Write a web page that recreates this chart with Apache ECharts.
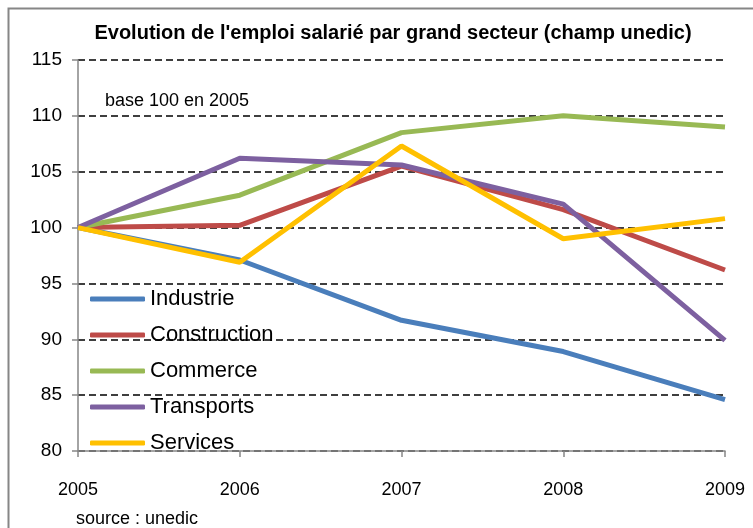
<!DOCTYPE html>
<html>
<head>
<meta charset="utf-8">
<script src="https://cdn.jsdelivr.net/npm/echarts@6/dist/echarts.min.js"></script>
<style>
  html, body { margin: 0; padding: 0; background: #fff; }
  #chart { width: 753px; height: 528px; }
</style>
</head>
<body>
<div id="chart"></div>
<script>
// années (axe x)
const years = ['2005', '2006', '2007', '2008', '2009'];

// indices base 100 en 2005
const industrie = [100, 97.1, 91.7, 88.9, 84.6];
const construction = [100, 100.2, 105.5, 101.6, 96.2];
const commerce = [100, 102.9, 108.5, 110.0, 109.0];
const transports = [100, 106.2, 105.6, 102.1, 89.9];
const services = [100, 96.9, 107.3, 99.0, 100.8];

const seriesNames = ['Industrie', 'Construction', 'Commerce', 'Transports', 'Services'];
const seriesData = [industrie, construction, commerce, transports, services];
const colors = ['#4a7ebb', '#be4b48', '#98b954', '#7d60a0', '#ffc000'];

const font = '"Liberation Sans", Arial, sans-serif';

const chart = echarts.init(document.getElementById('chart'));

const options = {
    animation: false,
    color: colors,
    textStyle: { fontFamily: font },
    title: {
        text: "Evolution de l'emploi salarié par grand secteur (champ unedic)",
        left: 388,
        top: 18,
        textAlign: 'center',
        textStyle: { fontFamily: font, fontSize: 20, fontWeight: 'bold', color: '#000' }
    },
    grid: {
        left: 78,
        right: 28,
        top: 60,
        bottom: 77
    },
    legend: {
        orient: 'vertical',
        left: 85,
        top: 283,
        icon: 'roundRect',
        itemWidth: 55,
        itemHeight: 5,
        itemGap: 14,
        data: seriesNames,
        textStyle: { fontFamily: font, fontSize: 22, color: '#000' }
    },
    xAxis: {
        type: 'category',
        data: years,
        boundaryGap: false,
        axisLine: { lineStyle: { color: '#868686', width: 1.5 } },
        axisTick: { show: true, length: 6, lineStyle: { color: '#868686', width: 1.5 } },
        axisLabel: { color: '#000', fontSize: 18, margin: 30 },
        splitLine: { show: false }
    },
    yAxis: {
        type: 'value',
        min: 80,
        max: 115,
        interval: 5,
        axisLine: { show: true, lineStyle: { color: '#868686', width: 1.5 } },
        axisTick: { show: true, length: 6, lineStyle: { color: '#868686', width: 1.5 } },
        axisLabel: { color: '#000', fontSize: 19, margin: 16 },
        splitLine: { show: true, lineStyle: { color: '#000', width: 1.5, type: [7, 4] } }
    },
    graphic: [
        {
            type: 'rect',
            left: 6,
            top: 6,
            shape: { width: 800, height: 600 },
            style: { fill: 'none', stroke: '#868686', lineWidth: 2 },
            silent: true
        },
        {
            type: 'text',
            left: 105,
            top: 92,
            style: { text: 'base 100 en 2005', fontFamily: font, fontSize: 18, fill: '#000' }
        },
        {
            type: 'text',
            left: 76,
            top: 510,
            style: { text: 'source : unedic', fontFamily: font, fontSize: 18, fill: '#000' }
        }
    ],
    series: seriesNames.map(function (name, i) {
        return {
            name: name,
            type: 'line',
            data: seriesData[i],
            symbol: 'none',
            lineStyle: { width: 5, color: colors[i] },
            itemStyle: { color: colors[i] }
        };
    })
};

chart.setOption(options);
</script>
</body>
</html>
